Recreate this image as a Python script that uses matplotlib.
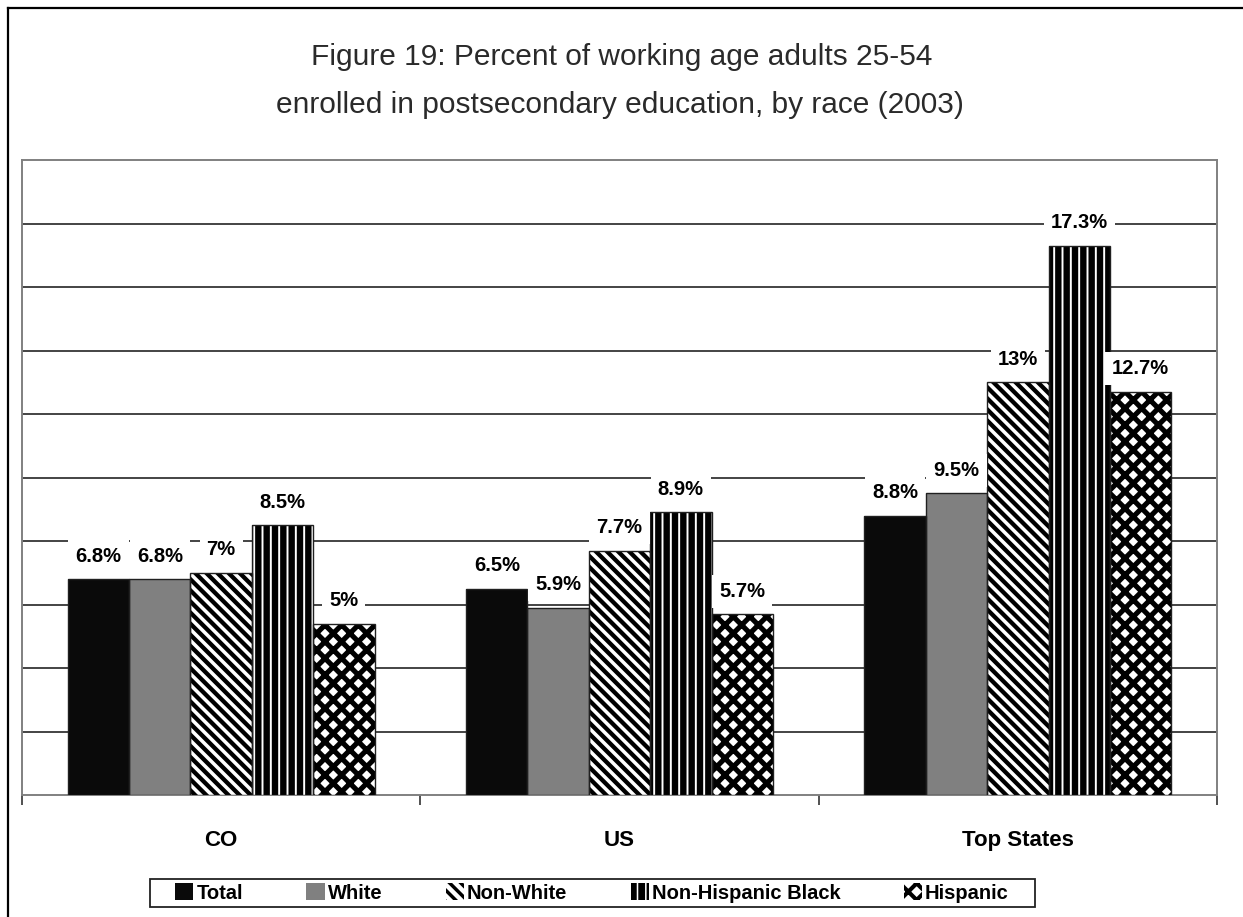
import matplotlib
matplotlib.use('Agg')
import matplotlib.pyplot as plt
from matplotlib.patches import Rectangle
import numpy as np

# Data
categories = ['CO', 'US', 'Top States']
series = ['Total', 'White', 'Non-White', 'Non-Hispanic Black', 'Hispanic']
total = [6.8, 6.5, 8.8]
white = [6.8, 5.9, 9.5]
non_white = [7.0, 7.7, 13.0]
nh_black = [8.5, 8.9, 17.3]
hispanic = [5.4, 5.7, 12.7]
value_labels = [['6.8%', '6.5%', '8.8%'],
                ['6.8%', '5.9%', '9.5%'],
                ['7%', '7.7%', '13%'],
                ['8.5%', '8.9%', '17.3%'],
                ['5%', '5.7%', '12.7%']]

plt.rcParams['font.family'] = ['Liberation Sans', 'DejaVu Sans']

W, H = 1243, 917
fig = plt.figure(figsize=(W / 100, H / 100), dpi=100)

# outer frame (left + top only visible)
fig.add_artist(plt.Line2D([8 / W, 8 / W], [0, 1 - 8 / H], color='black', lw=1.6,
                          transform=fig.transFigure))
fig.add_artist(plt.Line2D([8 / W, 1], [1 - 8 / H, 1 - 8 / H], color='black', lw=1.6,
                          transform=fig.transFigure))

fig.text(622 / W, 1 - 57 / H, 'Figure 19: Percent of working age adults 25-54',
         ha='center', va='center', fontsize=21.5, color='#2a2a2a')
fig.text(620 / W, 1 - 105 / H, 'enrolled in postsecondary education, by race (2003)',
         ha='center', va='center', fontsize=21.5, color='#2a2a2a')

ax = fig.add_axes([22 / W, 1 - 795 / H, (1217 - 22) / W, (795 - 160) / H])

# style per series: face, hatch colour, hatch, hatch linewidth
styles = [
    dict(face='#0a0a0a', hcol='#0a0a0a', hatch=None, hlw=1.0),
    dict(face='#808080', hcol='#808080', hatch=None, hlw=1.0),
    dict(face='white', hcol='black', hatch='\\\\\\', hlw=3.1),
    dict(face='black', hcol='white', hatch='||', hlw=1.4),
    dict(face='white', hcol='black', hatch='xx', hlw=3.7),
]

data = [total, white, non_white, nh_black, hispanic]
x = np.arange(len(categories)) + 0.5
width = 0.154
handles = []
for i, (vals, st) in enumerate(zip(data, styles)):
    pos = x + (i - 2) * width
    with plt.rc_context({'hatch.linewidth': st['hlw']}):
        bars = ax.bar(pos, vals, width, color=st['face'], edgecolor=st['hcol'],
                      hatch=st['hatch'], linewidth=0, zorder=3, label=series[i])
        for b in bars:
            if hasattr(b, 'set_hatch_linewidth'):
                b.set_hatch_linewidth(st['hlw'])
    handles.append(bars[0])
    # outline
    ax.bar(pos, vals, width, fill=False, edgecolor='#202020', linewidth=1.0, zorder=4)
    for p, v, lab in zip(pos, vals, value_labels[i]):
        ax.annotate(lab, (p, v), xytext=(0, 16.5), textcoords='offset points',
                    ha='center', va='center', fontsize=14.5, fontweight='bold',
                    zorder=5,
                    bbox=dict(boxstyle='square,pad=0.35', fc='white', ec='none'))

ax.set_xlim(0, 3)
ax.set_ylim(0, 20)
ax.set_yticks(np.arange(2, 20, 2))
ax.tick_params(axis='y', length=0, labelleft=False)
ax.yaxis.grid(True, color='#111111', lw=1.1, zorder=0)
ax.set_axisbelow(True)

ax.set_xticks([0, 1, 2, 3])
ax.set_xticklabels([])
ax.tick_params(axis='x', which='major', direction='out', length=7.5, width=1.2,
               color='#333333')
ax.set_xticks(x, minor=True)
ax.set_xticklabels(categories, minor=True, fontsize=16, fontweight='bold')
ax.tick_params(axis='x', which='minor', length=0, pad=25)

for s in ax.spines.values():
    s.set_color('#808080')
    s.set_linewidth(1.4)

leg = fig.legend(handles, series, loc='center', ncol=5,
                 bbox_to_anchor=(592 / W, 1 - 893 / H),
                 prop=dict(size=14.5, weight='bold'),
                 frameon=False,
                 handlelength=0.9, handleheight=0.9, handletextpad=0.15,
                 columnspacing=3.15, borderpad=0.2, borderaxespad=0)
for h, st in zip(leg.legend_handles, styles):
    if hasattr(h, 'set_hatch_linewidth'):
        h.set_hatch_linewidth(st['hlw'] * 0.8)
    h.set_edgecolor(st['hcol'])
    h.set_linewidth(0)
# legend box
fig.add_artist(Rectangle((150 / W, 1 - 907 / H), (1035 - 150) / W, 28 / H,
                         transform=fig.transFigure, fill=False,
                         edgecolor='#222222', lw=1.3))

fig.savefig('out.png', dpi=100, facecolor='white')
